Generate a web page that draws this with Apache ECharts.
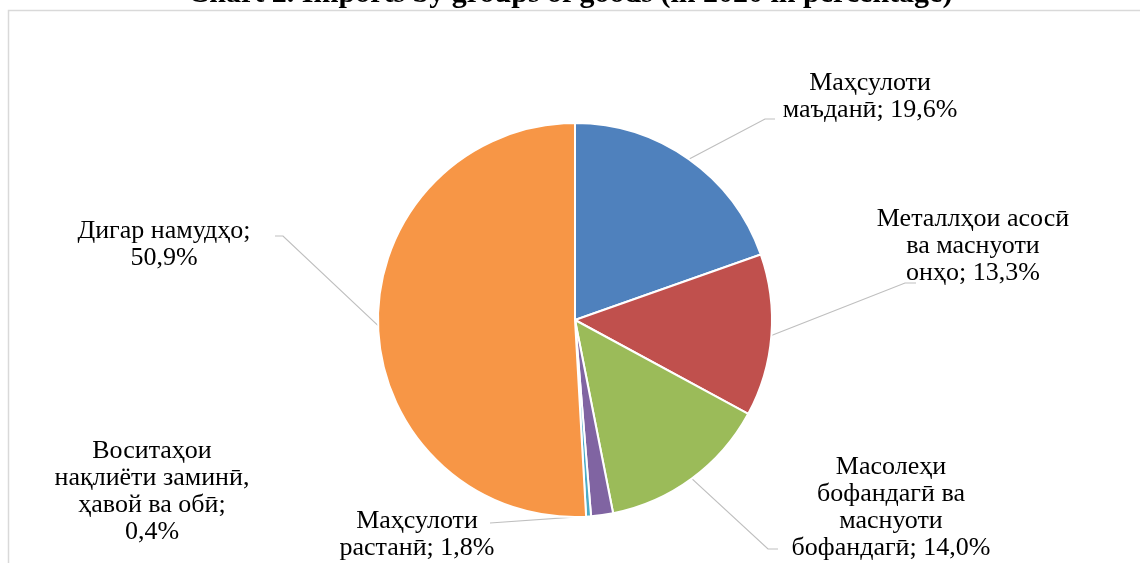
<!DOCTYPE html>
<html>
<head>
<meta charset="utf-8">
<script src="https://cdn.jsdelivr.net/npm/echarts@6/dist/echarts.min.js"></script>
<style>
  html, body { margin: 0; padding: 0; background: #fff; }
  #chart { width: 1140px; height: 563px; }
</style>
</head>
<body>
<div id="chart"></div>
<script>
// goods groups, clockwise from 12 o'clock
const categories = [
    'Маҳсулоти\nмаъданӣ',
    'Металлҳои асосӣ\nва маснуоти\nонҳо',
    'Масолеҳи\nбофандагӣ ва\nмаснуоти\nбофандагӣ',
    'Маҳсулоти\nрастанӣ',
    'Воситаҳои\nнақлиёти заминӣ,\nҳавой ва обӣ',
    'Дигар намудҳо'
];
const shares = [19.6, 13.3, 14.0, 1.8, 0.4, 50.9];
const colors = ['#4f81bd', '#c0504d', '#9bbb59', '#8064a2', '#4bacc6', '#f79646'];
// value goes on its own line for these
const valueOnNewLine = [false, false, false, false, true, true];
const titleText = 'Chart 2. Imports by groups of goods (in 2020 in percentage)';

// label placement (center x, top y) and leader line bend / end points
const labelSpots = [
    { x: 870, y: 70, bend: [765, 119], end: [775, 119] },
    { x: 973, y: 206, bend: [905, 283], end: [916, 283] },
    { x: 891, y: 454, bend: [768, 549], end: [778, 549] },
    { x: 417, y: 508, bend: null, end: [490, 523] },
    { x: 152, y: 438, bend: null, end: null },
    { x: 164, y: 218, bend: [283, 236], end: [275, 236] }
];

const fmt = v => v.toFixed(1).replace('.', ',') + '%';

const chart = echarts.init(document.getElementById('chart'));
chart.setOption({
    animation: false,
    title: {
        text: titleText,
        left: 'center',
        top: -26,
        textStyle: { fontFamily: 'Liberation Serif', fontSize: 30, fontWeight: 'bold', color: '#000' }
    },
    graphic: [{
        type: 'rect',
        shape: { x: 8.5, y: 10.5, width: 1200, height: 600 },
        style: { fill: 'none', stroke: '#d9d9d9', lineWidth: 1.5 },
        silent: true
    }],
    series: [{
        type: 'pie',
        center: [575, 320],
        radius: 197,
        startAngle: 90,
        clockwise: true,
        avoidLabelOverlap: false,
        itemStyle: { borderColor: '#fff', borderWidth: 2 },
        label: {
            show: true,
            position: 'outside',
            fontFamily: 'Liberation Serif',
            fontSize: 26,
            lineHeight: 27,
            color: '#000',
            align: 'center',
            formatter: p => p.name + (valueOnNewLine[p.dataIndex] ? ';\n' : '; ') + fmt(p.value)
        },
        labelLine: {
            show: true,
            length: 20,
            length2: 10,
            lineStyle: { color: '#bfbfbf', width: 1.2 }
        },
        emphasis: { disabled: true },
        labelLayout: params => {
            const s = labelSpots[params.dataIndex];
            const out = { x: s.x, y: s.y, align: 'center', verticalAlign: 'top' };
            const pts = params.labelLinePoints;
            if (pts && pts.length && s.end) {
                const line = [pts[0]];
                if (s.bend) line.push(s.bend);
                line.push(s.end);
                out.labelLinePoints = line;
            }
            return out;
        },
        data: categories.map((name, i) => ({
            name: name,
            value: shares[i],
            itemStyle: { color: colors[i] },
            labelLine: { show: labelSpots[i].end !== null }
        }))
    }]
});
</script>
</body>
</html>
